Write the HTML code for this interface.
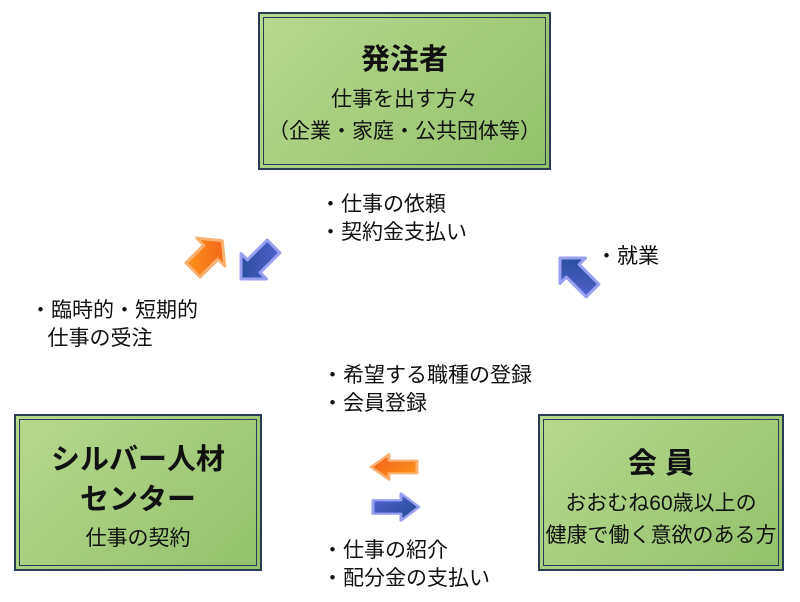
<!DOCTYPE html>
<html><head><meta charset="utf-8"><style>
body{margin:0;width:800px;height:602px;background:#fff;overflow:hidden;position:relative;font-family:"Liberation Sans","Noto Sans CJK JP",sans-serif;color:#111}
.box{position:absolute;box-sizing:border-box;border:2px solid #2a3b55;outline:1px solid #2a3b55;outline-offset:-6px;background:linear-gradient(135deg,#b8d88e,#93c06a);text-align:center}
.t{position:absolute;font-size:21px;line-height:28px;white-space:nowrap}
</style></head><body>
<div class="box" style="left:258px;top:12px;width:293px;height:158px">
<div style="font-weight:bold;font-size:29px;margin-top:22px">発注者</div>
<div style="font-size:21px;margin-top:6px;line-height:32px">仕事を出す方々<br>（企業・家庭・公共団体等）</div></div>
<div class="box" style="left:14px;top:414px;width:248px;height:157px">
<div style="font-weight:bold;font-size:29px;margin-top:24px;line-height:40px">シルバー人材<br>センター</div>
<div style="font-size:21px;margin-top:2px">仕事の契約</div></div>
<div class="box" style="left:538px;top:414px;width:246px;height:157px">
<div style="font-weight:bold;font-size:29px;margin-top:24px">会 員</div>
<div style="font-size:21px;margin-top:6px;line-height:32px">おおむね60歳以上の<br>健康で働く意欲のある方</div></div>
<div class="t" style="left:320px;top:191px">・仕事の依頼<br>・契約金支払い</div>
<div class="t" style="left:596px;top:243px">・就業</div>
<div class="t" style="left:30px;top:297px">・臨時的・短期的<br>&nbsp;&nbsp;&nbsp;仕事の受注</div>
<div class="t" style="left:322px;top:362px">・希望する職種の登録<br>・会員登録</div>
<div class="t" style="left:322px;top:537px">・仕事の紹介<br>・配分金の支払い</div>
<svg width="800" height="602" style="position:absolute;left:0;top:0">
<defs>
<linearGradient id="o" x1="0" y1="0" x2="1" y2="1"><stop offset="0" stop-color="#ff9a1a"/><stop offset="1" stop-color="#ef5a1a"/></linearGradient>
<linearGradient id="b" x1="0" y1="0" x2="1" y2="1"><stop offset="0" stop-color="#5a63d8"/><stop offset="1" stop-color="#1a4a8a"/></linearGradient>
<polygon id="ar" points="-22,-9 6,-9 6,-18 24,0 6,18 6,9 -22,9" stroke-width="3" stroke-linejoin="round"/>
</defs>
<use href="#ar" fill="url(#o)" stroke="#f9b070" transform="translate(207,256) rotate(-45) scale(0.9,1.1)"/>
<use href="#ar" fill="url(#b)" stroke="#9aa0f0" transform="translate(258,262) rotate(135)"/>
<use href="#ar" fill="url(#b)" stroke="#9aa0f0" transform="translate(577,275) rotate(-135)"/>
<use href="#ar" fill="url(#o)" stroke="#f9b070" transform="translate(395,467) rotate(180) scale(1,0.7)"/>
<use href="#ar" fill="url(#b)" stroke="#9aa0f0" transform="translate(395,507) scale(1,0.75)"/>
</svg>
</body></html>
